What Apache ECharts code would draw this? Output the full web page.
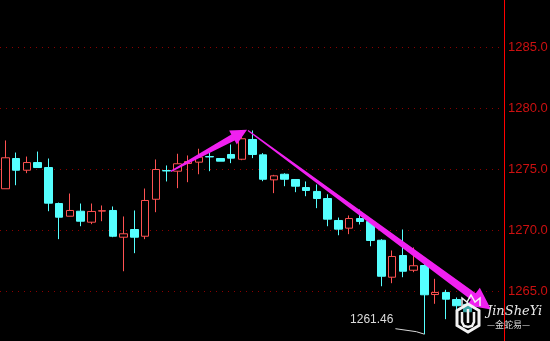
<!DOCTYPE html>
<html><head><meta charset="utf-8">
<script src="https://cdn.jsdelivr.net/npm/echarts@6/dist/echarts.min.js"></script>
<style>html,body{margin:0;padding:0;background:#000;overflow:hidden;width:550px;height:341px;position:relative}
#c{position:absolute;left:0;top:-14px;width:550px;height:366px}</style>
</head><body><div id="c"></div>
<script>
const categories = ['K01','K02','K03','K04','K05','K06','K07','K08','K09','K10','K11','K12','K13','K14','K15','K16','K17','K18','K19','K20','K21','K22','K23','K24','K25','K26','K27','K28','K29','K30','K31','K32','K33','K34','K35','K36','K37','K38','K39','K40','K41','K42','K43','K44','K45','K46','K47'];
const openV  = [1273.38,1275.86,1274.90,1275.53,1275.12,1272.17,1271.13,1271.54,1270.64,1271.55,1271.60,1269.41,1270.04,1269.49,1272.52,1274.87,1274.82,1275.45,1275.56,1276.02,1275.86,1276.19,1275.80,1277.42,1276.16,1274.11,1274.57,1274.14,1273.48,1273.16,1272.58,1270.78,1270.15,1270.94,1270.70,1269.16,1266.13,1267.91,1266.70,1267.09,1264.71,1264.88,1264.30,1263.90];
const closeV = [1275.92,1274.90,1275.53,1275.12,1272.20,1271.05,1271.60,1270.72,1271.52,1271.58,1269.49,1269.69,1269.41,1272.42,1274.96,1274.84,1275.43,1275.61,1275.97,1275.99,1275.64,1275.89,1277.48,1276.19,1274.16,1274.44,1274.16,1273.59,1273.24,1272.58,1270.89,1270.07,1270.94,1270.70,1269.14,1266.21,1267.83,1266.62,1267.07,1264.69,1264.88,1264.33,1263.79,1263.30];
const lowV   = [1273.38,1273.67,1274.66,1275.12,1271.54,1269.25,1271.13,1270.31,1270.48,1270.72,1269.41,1266.62,1268.10,1269.25,1271.46,1273.98,1273.43,1273.92,1274.57,1274.82,1275.64,1275.48,1275.72,1275.89,1274.00,1273.02,1273.59,1273.10,1272.77,1271.79,1270.31,1269.57,1269.66,1270.45,1268.67,1265.39,1265.64,1266.13,1266.54,1261.46,1263.95,1262.69,1262.31,1262.60];
const highV  = [1277.34,1276.35,1276.02,1276.43,1275.86,1272.25,1272.99,1272.17,1272.17,1272.01,1271.93,1271.11,1271.60,1273.40,1275.78,1275.29,1276.25,1276.11,1276.66,1276.38,1275.86,1277.01,1277.90,1278.16,1276.30,1274.52,1274.65,1274.14,1273.98,1273.73,1272.93,1271.02,1271.19,1271.68,1270.90,1269.25,1268.32,1270.04,1268.57,1267.20,1266.00,1265.10,1264.47,1264.20];
const yMin = 1260, yMax = 1290, yStep = 5;
const lowLabel = '1261.46';
const lowIndex = 39;
// annotation arrows in data coordinates [categoryIndex, value]
const arrowUp   = [[15.4, 1274.80], [22.49, 1278.21]];
const arrowDown = [[22.58, 1278.16], [45.2, 1263.48]];

const candleData = openV.map((o, i) => [o, closeV[i], lowV[i], highV[i]]);

const chart = echarts.init(document.getElementById('c'), null, {renderer: 'canvas'});
chart.setOption({
  backgroundColor: '#000',
  animation: false,
  grid: {left: 0, right: 45, top: 0, bottom: 0, containLabel: false, outerBoundsMode: 'none'},
  xAxis: {
    type: 'category', data: categories, boundaryGap: true,
    axisLine: {show: false}, axisTick: {show: false}, axisLabel: {show: false}, splitLine: {show: false}
  },
  yAxis: {
    type: 'value', position: 'right', min: yMin, max: yMax, interval: yStep,
    axisLine: {show: false},
    axisTick: {show: false},
    axisLabel: {color: '#cc1010', fontSize: 13, fontFamily: 'Liberation Sans', margin: 3,
      formatter: v => v.toFixed(1)},
    splitLine: {show: true, lineStyle: {color: '#8a0000', type: [1, 5], width: 1}}
  },
  series: [{
    type: 'candlestick',
    data: candleData,
    barWidth: 8,
    itemStyle: {color: '#000', color0: '#55ffff', borderColor: '#ff5252', borderColor0: '#55ffff', borderWidth: 1}
  }]
});

function px(i, v) {
  const p0 = chart.convertToPixel({gridIndex: 0}, [0, v]);
  const p1 = chart.convertToPixel({gridIndex: 0}, [1, v]);
  return [p0[0] + (p1[0] - p0[0]) * i, p0[1]];
}
function arrowPoly(a, wt, ws, hl, hw) {
  const T = px(a[0][0], a[0][1]), H = px(a[1][0], a[1][1]);
  const dx = H[0] - T[0], dy = H[1] - T[1], L = Math.hypot(dx, dy);
  const d = [dx / L, dy / L], n = [-d[1], d[0]];
  const B = [H[0] - d[0] * hl, H[1] - d[1] * hl];
  const P = (p, s) => [p[0] + n[0] * s, p[1] + n[1] * s];
  return [P(T, wt / 2), P(B, ws / 2), P(B, hw), H, P(B, -hw), P(B, -ws / 2), P(T, -wt / 2)];
}
const magenta = '#f020f0';
const lp = px(lowIndex, lowV[lowIndex]);
const axisX = Math.round(px(categories.length - 0.5, yMin)[0]) - 0.5;
const W = '#f2f2f2';
chart.setOption({
  graphic: [
    {type: 'line', z: 30, silent: true, shape: {x1: axisX, y1: 0, x2: axisX, y2: 366}, style: {stroke: '#ff0000', lineWidth: 1}},
    {type: 'polygon', z: 50, shape: {points: arrowPoly(arrowUp, 1.5, 7, 16, 8)}, style: {fill: magenta}},
    {type: 'polygon', z: 50, shape: {points: arrowPoly(arrowDown, 1.2, 8, 22, 11)}, style: {fill: magenta}},
    {type: 'polyline', z: 40, shape: {points: [[lp[0] - 29, lp[1] - 5.5], [lp[0] - 8, lp[1] - 2.5], [lp[0], lp[1]]]},
      style: {stroke: '#d8d8d8', lineWidth: 1, fill: null}},
    {type: 'text', z: 40, style: {text: lowLabel, x: lp[0] - 31, y: lp[1] - 15, align: 'right', verticalAlign: 'middle',
      fill: '#dcdcdc', font: '12px "Liberation Sans"'}},
    // watermark logo (screen position, shifted to compensate the container offset)
    {type: 'group', z: 60, x: 0, y: 14, children: [
      {type: 'polygon', z: 60, shape: {points: [[468,304],[479,310.5],[479,325.5],[468,332],[457,325.5],[457,310.5]]},
        style: {fill: 'rgba(0,0,0,0.35)', stroke: W, lineWidth: 3}},
      {type: 'polyline', z: 61, shape: {points: [[462,312],[462,322],[464,326],[468,327],[472,326],[474,322],[474,312]]},
        style: {fill: null, stroke: W, lineWidth: 2.5}},
      {type: 'line', z: 61, shape: {x1: 468, y1: 309, x2: 468, y2: 323}, style: {stroke: W, lineWidth: 2.5}},
      {type: 'polyline', z: 61, shape: {points: [[462,306],[462,298],[467,302],[471,295],[475,302],[480,298],[480,306]]},
        style: {fill: null, stroke: W, lineWidth: 1.5}},
      {type: 'text', z: 61, style: {text: 'JinSheYi', x: 487, y: 312, verticalAlign: 'middle',
        fill: '#e8e8e8', font: 'italic 13px "DejaVu Serif"'}},
      {type: 'text', z: 61, style: {text: '—金蛇易—', x: 487, y: 325, verticalAlign: 'middle',
        fill: '#d8d8d8', font: '9px "Noto Sans CJK SC"'}}
    ]}
  ]
});
</script></body></html>
